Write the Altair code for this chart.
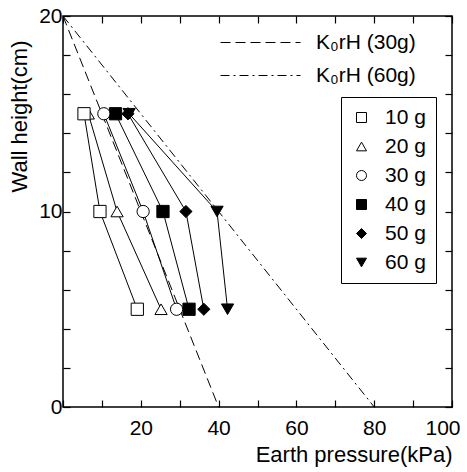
import altair as alt
import pandas as pd

FONT = "Liberation Sans"

# ---- data ----
series = ["10 g", "20 g", "30 g", "40 g", "50 g", "60 g"]
heights = [15, 10, 5]
p_10g = [5.4, 9.5, 19.1]
p_20g = [6.5, 13.9, 25.2]
p_30g = [10.5, 20.6, 29.2]
p_40g = [13.5, 25.7, 32.4]
p_50g = [16.7, 31.6, 36.2]
p_60g = [17.0, 39.6, 42.3]
pressures = [p_10g, p_20g, p_30g, p_40g, p_50g, p_60g]
shapes = ["square", "triangle-up", "circle", "square", "diamond", "triangle-down"]
fills = ["white", "white", "white", "black", "black", "black"]
strokes = ["black"] * 6

theory_labels = ["K\u2080rH (30g)", "K\u2080rH (60g)"]
theory_x = [[0, 40], [0, 80]]
theory_y = [[20, 0], [20, 0]]
theory_dash = [[10, 5], [9, 4, 2, 4]]

x_ticks = list(range(0, 101, 10))
y_ticks = list(range(0, 21, 2))

# ---- tables ----
rows = []
for s, vals in zip(series, pressures):
    for i, (h, p) in enumerate(zip(heights, vals)):
        rows.append({"series": s, "idx": i, "height": h, "pressure": p})
pts = pd.DataFrame(rows)
pts_draw = pd.concat([pts[pts.series == s] for s in reversed(series)])

trows = []
for lab, xs, ys in zip(theory_labels, theory_x, theory_y):
    for xv, yv in zip(xs, ys):
        trows.append({"label": lab, "pressure": xv, "height": yv})
theory = pd.DataFrame(trows)

xscale = alt.Scale(domain=[0, 100], nice=False, zero=False)
yscale = alt.Scale(domain=[0, 20], nice=False, zero=False)

common_axis = dict(domain=False, grid=False, tickSize=7, offset=-7, tickColor="black",
                   tickWidth=1.2, labelFont=FONT, labelColor="black", labelFontSize=21,
                   titleFont=FONT, titleColor="black", titleFontWeight="normal", titleFontSize=22)

x_bottom = alt.Axis(orient="bottom", values=x_ticks,
                    labelExpr="datum.value % 20 == 0 && datum.value > 0 ? datum.label : ''",
                    labelPadding=10, labelFlush=True, labelFlushOffset=8,
                    title="Earth pressure(kPa)", titleAnchor="end", titlePadding=6,
                    **common_axis)
y_left = alt.Axis(orient="left", values=y_ticks,
                  labelExpr="datum.value % 10 == 0 ? datum.label : ''",
                  labelPadding=1, title="Wall height(cm)", titleX=-51, titleY=100,
                  titleBaseline="middle", titleAlign="center", **common_axis)
x_top = alt.Axis(orient="top", values=x_ticks, labels=False, title=None, **common_axis)
y_right = alt.Axis(orient="right", values=y_ticks, labels=False, title=None, **common_axis)

theory_layer = alt.Chart(theory).mark_line(color="black", strokeWidth=1).encode(
    x=alt.X("pressure:Q", scale=xscale, axis=x_bottom),
    y=alt.Y("height:Q", scale=yscale, axis=y_left),
    strokeDash=alt.StrokeDash(
        "label:N",
        scale=alt.Scale(domain=theory_labels, range=theory_dash),
        legend=alt.Legend(orient="none", legendX=187, legendY=16, title=None,
                          symbolType="M-4,0L4,0", symbolSize=400, symbolStrokeWidth=1,
                          symbolStrokeColor="black", symbolFillColor="transparent",
                          labelFont=FONT, labelFontSize=21,
                          labelColor="black", labelOffset=45, rowPadding=11, padding=0),
    ),
)

lines_layer = alt.Chart(pts).mark_line(color="black", strokeWidth=1).encode(
    x=alt.X("pressure:Q", scale=xscale, axis=x_top),
    y=alt.Y("height:Q", scale=yscale, axis=y_right),
    detail="series:N",
    order=alt.Order("idx:Q"),
)

shape_legend = alt.Legend(orient="none", legendX=278, legendY=81, title=None,
                          strokeColor="black", fillColor="white", padding=10,
                          symbolSize=100, symbolStrokeColor="black", symbolStrokeWidth=1,
                          labelFont=FONT, labelFontSize=21, labelColor="black",
                          labelOffset=13, rowPadding=7)

points_layer = alt.Chart(pts_draw).mark_point(filled=True, stroke="black", strokeWidth=1,
                                             size=150, opacity=1).encode(
    x=alt.X("pressure:Q", scale=xscale, axis=None),
    y=alt.Y("height:Q", scale=yscale, axis=None),
    shape=alt.Shape("series:N", scale=alt.Scale(domain=series, range=shapes), legend=shape_legend),
    fill=alt.Fill("series:N", scale=alt.Scale(domain=series, range=fills), legend=shape_legend),
    stroke=alt.Stroke("series:N", scale=alt.Scale(domain=series, range=strokes), legend=shape_legend),
)

chart = alt.layer(theory_layer, lines_layer, points_layer).resolve_axis(
    x="independent", y="independent"
).properties(
    width=389, height=391,
    autosize=alt.AutoSizeParams(type="none"),
    padding={"left": 63, "top": 16, "right": 15, "bottom": 65},
    background="white",
).configure_view(stroke="black", strokeWidth=1.5)

chart.save("out.html", embed_options={"renderer": "svg", "actions": False})
